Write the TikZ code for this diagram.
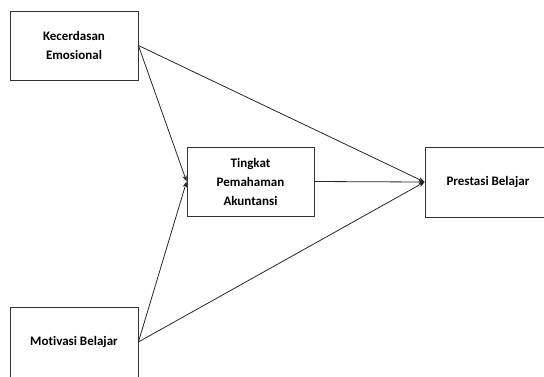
\documentclass[tikz,border=0pt]{standalone}
\usepackage{fontspec}
\setmainfont[Ligatures=NoCommon]{Carlito}
\usepackage{tikz}
\usetikzlibrary{arrows.meta,positioning}
\tikzset{
    box/.style={
        draw=black!80,
        line width=0.8pt,
        align=center,
        minimum height=69pt,
        minimum width=128pt,
        font=\bfseries\fontsize{13}{19}\selectfont
    },
    flow/.style={-{Stealth[length=6pt,width=4.5pt]}, line width=0.8pt, draw=black!85}
}

\begin{document}
\begin{tikzpicture}[x=1pt,y=1pt]
        \path[use as bounding box, clip] (0,0) rectangle (544,-376);
        \node[box] (kec) at (74,-45.5) {Kecerdasan\\Emosional};
        \node[box, minimum width=127pt] (tpa) at (250.5,-181.5) {Tingkat\\Pemahaman\\Akuntansi};
        \node[box, minimum width=126pt, minimum height=70pt] (pres) at (488,-182) {Prestasi Belajar};
        \node[box, minimum height=70pt] (mot) at (74,-342) {Motivasi Belajar};

        \draw[flow] (kec.east) -- (tpa.west);
        \draw[flow] (mot.east) -- (tpa.west);
        \draw[flow] (kec.east) -- (pres.west);
        \draw[flow] (mot.east) -- (pres.west);
        \draw[flow] (tpa.east) -- (pres.west);
    \end{tikzpicture}
\end{document}
